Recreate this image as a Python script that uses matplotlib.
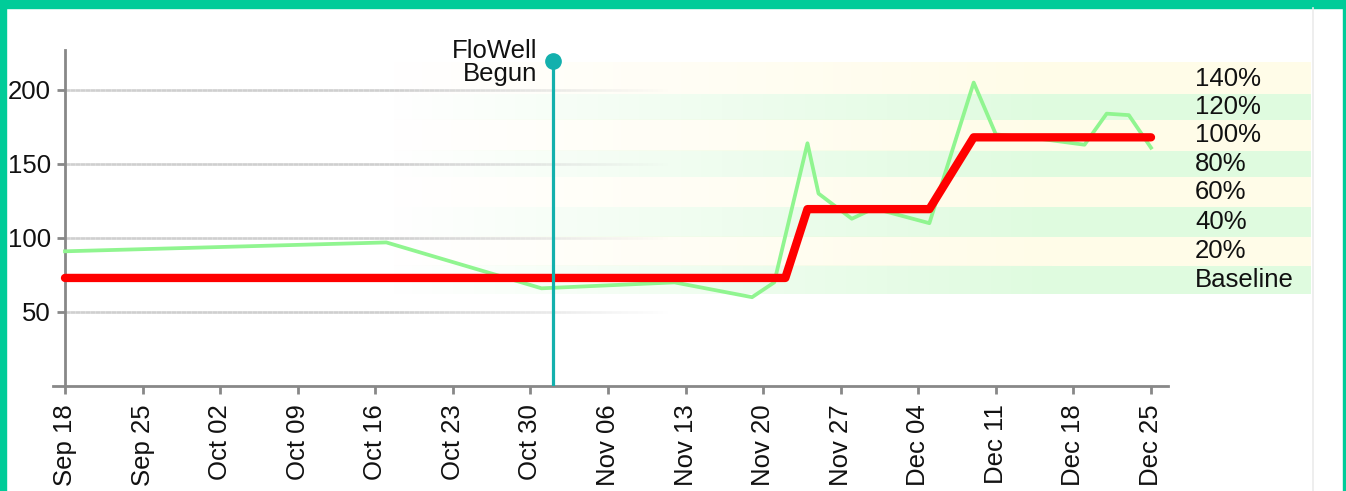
import numpy as np
import pandas as pd
import matplotlib
matplotlib.use("Agg")
import matplotlib.pyplot as plt
import matplotlib.dates as mdates
from matplotlib.collections import LineCollection

plt.rcParams['font.family'] = ['Liberation Sans', 'DejaVu Sans']

# daily readings (light green line)
reading_dates = pd.to_datetime([
    "2017-09-18", "2017-10-17", "2017-10-31", "2017-11-12", "2017-11-19",
    "2017-11-21", "2017-11-24", "2017-11-25", "2017-11-28", "2017-11-30",
    "2017-12-02", "2017-12-05", "2017-12-09", "2017-12-11", "2017-12-15",
    "2017-12-19", "2017-12-21", "2017-12-23", "2017-12-25",
])
reading_values = [91, 97, 66, 70, 60, 70, 164, 130, 113, 120,
                  116, 110, 205, 170, 167, 163, 184, 183, 161]

# level line (red)
level_dates = pd.to_datetime([
    "2017-09-18", "2017-11-22", "2017-11-24", "2017-12-05", "2017-12-09", "2017-12-25",
])
level_values = [73, 73, 119.5, 119.5, 168, 168]

# event marker
event_date = pd.Timestamp("2017-11-01")
event_top = 219.5
event_label = "FloWell\nBegun"

# target bands
band_labels = ["Baseline", "20%", "40%", "60%", "80%", "100%", "120%", "140%"]
band_edges = [62, 81, 101, 121, 141, 159, 180, 197, 218]

tick_dates = pd.date_range("2017-09-18", "2017-12-25", freq="7D")
y_ticks = [50, 100, 150, 200]

FS = 18.5
W, H = 1346, 491
fig = plt.figure(figsize=(W / 100, H / 100), dpi=100)
fig.patch.set_facecolor("white")

# page border
border = "#00cc99"
fig.patches.append(plt.Rectangle((0, 1 - 8 / H), 1, 8 / H, transform=fig.transFigure, color=border, zorder=0))
fig.patches.append(plt.Rectangle((0, 0), 6 / W, 1, transform=fig.transFigure, color=border, zorder=0))
fig.patches.append(plt.Rectangle((1 - 3 / W, 0), 3 / W, 1, transform=fig.transFigure, color=border, zorder=0))
fig.lines.append(plt.Line2D([1313 / W, 1313 / W], [0, 1 - 8 / H], transform=fig.transFigure,
                            color="#ebebeb", lw=1.2))

ymax = 227
ax_left, ax_right = 53, 1168
ax_bottom, ax_top = 386, 50
bottom = (H - ax_bottom) / H
height = (ax_bottom - ax_top) / H

# band axes (fades in from the left)
b_left, b_right = 390, 1310
bax = fig.add_axes([b_left / W, bottom, (b_right - b_left) / W, height], zorder=0)
ramp = np.clip(np.linspace(0, 1, 400) / ((1050 - b_left) / (b_right - b_left)), 0, 1)
band_colors = [(0.875, 0.988, 0.875), (1.0, 0.992, 0.91)]
for i in range(len(band_labels)):
    rgba = np.zeros((1, 400, 4))
    rgba[0, :, :3] = band_colors[i % 2]
    rgba[0, :, 3] = ramp
    bax.imshow(rgba, extent=[0, 1, band_edges[i], band_edges[i + 1]], aspect="auto",
               interpolation="bilinear")
    bax.text((1195 - b_left) / (b_right - b_left), (band_edges[i] + band_edges[i + 1]) / 2,
             band_labels[i], fontsize=FS, va="center", ha="left", color="#111111")
bax.set_xlim(0, 1)
bax.set_ylim(0, ymax)
bax.axis("off")

ax = fig.add_axes([ax_left / W, bottom, (ax_right - ax_left) / W, height], zorder=1)
ax.patch.set_alpha(0)
start = mdates.date2num(tick_dates[0])
end = mdates.date2num(tick_dates[-1])
px_day = (1151 - 65) / (end - start)
ax.set_xlim(start - (65 - ax_left) / px_day, end + (ax_right - 1151) / px_day)
ax.set_ylim(0, ymax)

# fading gridlines
gx = np.linspace(start, start + (667 - 65) / px_day, 120)
fade_from = start + (390 - 65) / px_day
for yv in y_ticks:
    segs = [[(gx[k], yv), (gx[k + 1], yv)] for k in range(len(gx) - 1)]
    alphas = np.clip(1 - (gx[:-1] - fade_from) / (gx[-1] - fade_from), 0, 1)
    cols = [(0.81, 0.81, 0.81, a) for a in alphas]
    ax.add_collection(LineCollection(segs, colors=cols, linewidths=1.9, zorder=1))

ax.plot(reading_dates, reading_values, color="#90f590", lw=2.7, zorder=3)
ax.plot(level_dates, level_values, color="#ff0000", lw=6, solid_capstyle="round",
        solid_joinstyle="round", zorder=4)
ax.plot([event_date, event_date], [0, event_top], color="#13b0ad", lw=2.3, zorder=5)
ax.plot([event_date], [event_top], "o", color="#13b0ad", ms=11, zorder=6, clip_on=False)
ax.text(mdates.date2num(event_date) - 15 / px_day, event_top - 1, event_label, ha="right",
        va="center", fontsize=FS, linespacing=0.92, color="#111111", clip_on=False)

for s in ["top", "right"]:
    ax.spines[s].set_visible(False)
ax.spines["left"].set_position(("data", start))
for s in ["left", "bottom"]:
    ax.spines[s].set_color("#888888")
    ax.spines[s].set_linewidth(2)

ax.set_xticks(tick_dates)
ax.xaxis.set_major_formatter(mdates.DateFormatter("%b %d"))
ax.set_yticks(y_ticks)
ax.tick_params(axis="x", length=6, width=2, color="#888888", pad=7, labelsize=FS,
               labelrotation=90, labelcolor="#111111")
ax.tick_params(axis="y", length=6, width=2, color="#888888", pad=4, labelsize=FS,
               labelcolor="#111111")

fig.savefig("out.png", dpi=100)
